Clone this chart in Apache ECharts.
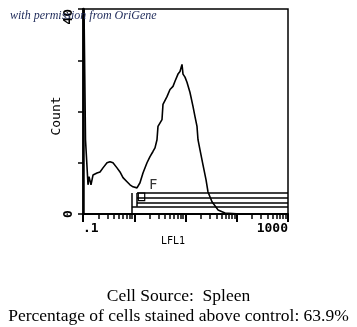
<!DOCTYPE html>
<html>
<head>
<meta charset="utf-8">
<script src="https://cdn.jsdelivr.net/npm/echarts@6/dist/echarts.min.js"></script>
<style>
  html, body { margin: 0; padding: 0; background: #fff; }
  #chart { width: 357px; height: 327px; }
</style>
</head>
<body>
<div id="chart"></div>
<script>
// LFL1 fluorescence (log scale) and event counts of the histogram trace
const lfl1 = [0.1046, 0.1094, 0.1119, 0.1197, 0.1252, 0.131, 0.1432, 0.1567, 0.1876, 0.2147,
  0.2455, 0.294, 0.3365, 0.3848, 0.4606, 0.5272, 0.603, 0.7221, 0.826, 0.9449,
  1.131, 1.294, 1.481, 1.773, 2.029, 2.321, 2.539, 2.778, 2.905, 3.477,
  3.636, 4.354, 4.984, 5.702, 6.238, 7.137, 7.809, 8.544, 8.937, 9.776,
  10.69, 12.24, 14.0, 15.32, 16.76, 17.53, 19.18, 21.94, 25.12, 27.48,
  32.87, 43.05, 59.0, 115.6, 1000];
const counts = [40, 40, 14.5, 14.5, 5.7, 7.3, 5.7, 7.6, 8.0, 8.2,
  9.0, 10.0, 10.2, 10.0, 9.0, 8.2, 7.1, 6.3, 5.7, 5.3,
  5.1, 6.1, 8.0, 10.0, 11.2, 12.2, 12.9, 14.5, 17.1, 18.4,
  21.4, 22.9, 24.3, 24.9, 25.9, 27.3, 27.8, 29.2, 27.3, 26.7,
  25.7, 23.7, 21.0, 19.0, 17.1, 14.5, 12.5, 9.6, 6.7, 4.3,
  2.4, 0.8, 0.2, 0, 0];

// Gate "F": start of the marker region and the levels of its bars
const gateStart = [1.13, 1.13, 1.13, 0.9];
const gateLevels = [4.1, 3.1, 2.2, 1.4];
const gateEnd = 1000;
const gateLabel = { name: 'F', x: 1.95, y: 5.5 };

// Axis ticks and labels
const xMajorTicks = [0.1, 1, 10, 100, 1000];
const xMinorTicks = [];
xMajorTicks.slice(0, 4).forEach(d => { for (let k = 2; k <= 9; k++) xMinorTicks.push(+(d * k).toPrecision(3)); });
const xLabels = [0.1, 1000];
const xLabelText = { 0.1: '.1', 1000: '1000' };
const yLabels = [0, 40];

const captionLine1 = 'Cell Source:  Spleen';
const captionLine2 = 'Percentage of cells stained above control: 63.9%';
const watermark = 'with permission from OriGene';

const chart = echarts.init(document.getElementById('chart'), null, { renderer: 'canvas' });
const mono = 'DejaVu Sans Mono';

const gateLines = gateLevels.map((lv, i) => [
  { coord: [gateStart[i], lv] }, { coord: [gateEnd, lv] }
]);
gateLines.push([{ coord: [0.9, 0] }, { coord: [0.9, gateLevels[0]] }]);
gateLines.push([{ coord: [1.13, gateLevels[3]] }, { coord: [1.13, gateLevels[0]] }]);

const captionStyle = { fontFamily: 'Liberation Serif', fontSize: 17.5, fontWeight: 'normal', color: '#000' };

chart.setOption({
  animation: false,
  backgroundColor: '#fff',
  grid: { left: 83, top: 9, right: 69, bottom: 113, show: true, borderColor: '#000', borderWidth: 1.5 },
  title: [
    { text: captionLine1, left: 'center', top: 282, textStyle: captionStyle },
    { text: captionLine2, left: 'center', top: 302, textStyle: captionStyle }
  ],
  xAxis: [
    {
      type: 'log', logBase: 10, min: 0.1, max: 1000,
      axisLine: { lineStyle: { color: '#000', width: 2 } },
      axisTick: { show: true, customValues: xMinorTicks, length: 5, lineStyle: { color: '#000', width: 1.5 } },
      axisLabel: {
        customValues: xLabels, formatter: v => xLabelText[v] || '',
        fontFamily: mono, fontSize: 13, fontWeight: 'bold', color: '#000', margin: 8,
        alignMinLabel: 'left', alignMaxLabel: 'right'
      },
      splitLine: { show: false }
    },
    {
      type: 'log', logBase: 10, min: 0.1, max: 1000, position: 'bottom',
      axisLine: { show: false },
      axisTick: { show: true, customValues: xMajorTicks, length: 8, lineStyle: { color: '#000', width: 2 } },
      axisLabel: { show: false },
      splitLine: { show: false }
    }
  ],
  yAxis: {
    type: 'value', min: 0, max: 40, interval: 10,
    axisLine: { show: true, lineStyle: { color: '#000', width: 2.5 } },
    axisTick: { show: true, length: 5, lineStyle: { color: '#000', width: 1.5 } },
    axisLabel: {
      customValues: yLabels, rotate: 90, margin: 8, alignMaxLabel: 'right',
      fontFamily: mono, fontSize: 13, fontWeight: 'bold', color: '#000'
    },
    splitLine: { show: false }
  },
  graphic: [
    { type: 'text', left: 10, top: 10, z: 100,
      style: { text: watermark, font: 'italic 12px "Liberation Serif"', fill: '#1c2858' } },
    { type: 'text', left: 161, top: 236,
      style: { text: 'LFL1', font: '10px "DejaVu Sans Mono"', fill: '#000' } },
    { type: 'text', x: 57, y: 116, rotation: Math.PI / 2,
      style: { text: 'Count', font: '13px "DejaVu Sans Mono"', fill: '#000', align: 'center', verticalAlign: 'middle' } }
  ],
  series: [
    {
      type: 'line', xAxisIndex: 0,
      data: lfl1.map((x, i) => [x, counts[i]]),
      symbol: 'none', clip: true,
      lineStyle: { color: '#000', width: 1.6 },
      markLine: {
        silent: true, symbol: 'none', label: { show: false },
        lineStyle: { color: '#000', width: 1.5, type: 'solid' },
        data: gateLines
      },
      markArea: {
        silent: true,
        itemStyle: { color: 'rgba(0,0,0,0)', borderColor: '#000', borderWidth: 1.2 },
        data: [[{ coord: [1.2, 2.6] }, { coord: [1.6, 4.1] }]]
      }
    },
    {
      type: 'scatter', xAxisIndex: 0, symbolSize: 0,
      data: [[gateLabel.x, gateLabel.y]],
      label: { show: true, formatter: gateLabel.name, position: 'right', distance: 0,
        fontFamily: mono, fontSize: 14, color: '#000' }
    }
  ]
});
</script>
</body>
</html>
